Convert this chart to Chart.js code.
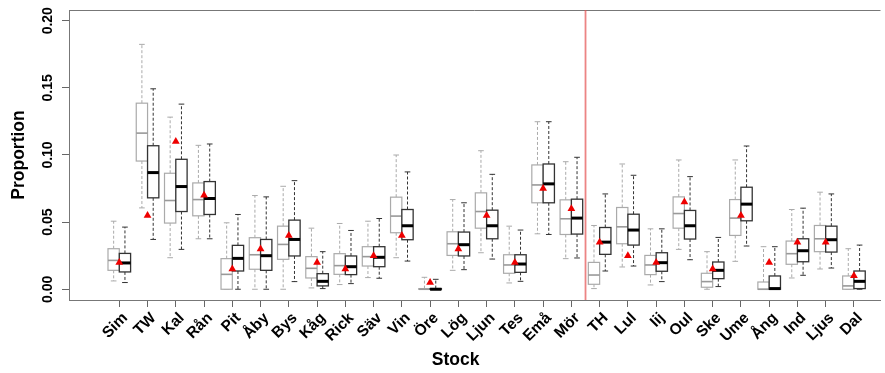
<!DOCTYPE html>
<html>
<head>
<meta charset="utf-8">
<script src="https://cdn.jsdelivr.net/npm/chart.js@4.4.1/dist/chart.umd.min.js"></script>
<style>
  html, body { margin: 0; padding: 0; background: #fff; }
</style>
</head>
<body>
<canvas id="boxChart" width="885" height="373"></canvas>
<script>
const stocks = ['Sim', 'TW', 'Kal', 'Rån', 'Pit', 'Åby', 'Bys', 'Kåg', 'Rick', 'Säv', 'Vin', 'Öre', 'Lög', 'Ljun',
    'Tes', 'Emå', 'Mör', 'TH', 'Lul', 'Iij', 'Oul', 'Ske', 'Ume', 'Ång', 'Ind', 'Ljus', 'Dal'];

// grey boxes (left of the tick)
const greyLow = [0.0062, 0.0606, 0.0235, 0.0376, 0, 0, 0, 0.001, 0.0035, 0.0087, 0.0235, 0, 0.0141, 0.0272,
    0.0047, 0.0413, 0.0228, 0.0005, 0.0166, 0.0032, 0.0297, 0, 0.0208, 0, 0.0084, 0.0151, 0];
const greyQ1 = [0.0141, 0.0955, 0.0493, 0.0547, 0, 0.0149, 0.0223, 0.0084, 0.0111, 0.0173, 0.0421, 0, 0.0252, 0.0455,
    0.0119, 0.0644, 0.0408, 0.0037, 0.0339, 0.0109, 0.0455, 0.0015, 0.0401, 0, 0.0186, 0.028, 0];
const greyMed = [0.0215, 0.1163, 0.0661, 0.0668, 0.0111, 0.0257, 0.0334, 0.0156, 0.0176, 0.0243, 0.0545, 0, 0.0339, 0.0579,
    0.0181, 0.0777, 0.0525, 0.0106, 0.0465, 0.0181, 0.0564, 0.0057, 0.053, 0, 0.0265, 0.0376, 0.0025];
const greyQ3 = [0.0302, 0.1386, 0.0864, 0.0792, 0.0228, 0.0384, 0.047, 0.0243, 0.0265, 0.0317, 0.0686, 0.0005, 0.0428, 0.0718,
    0.0257, 0.0926, 0.0666, 0.02, 0.0609, 0.0252, 0.0688, 0.0119, 0.0668, 0.0054, 0.0359, 0.0475, 0.0099];
const greyHigh = [0.0507, 0.1824, 0.1282, 0.1072, 0.0495, 0.0698, 0.0767, 0.0455, 0.049, 0.0507, 0.1, 0.0089, 0.0668, 0.1032,
    0.047, 0.1248, 0.095, 0.0475, 0.0933, 0.045, 0.0963, 0.028, 0.0963, 0.0317, 0.0594, 0.0723, 0.0302];

// black boxes (right of the tick)
const blackLow = [0.005, 0.0371, 0.0297, 0.0376, 0, 0, 0.0057, 0.0005, 0.0042, 0.0082, 0.021, 0, 0.0146, 0.0225,
    0.0059, 0.0408, 0.0233, 0.0136, 0.0173, 0.0057, 0.022, 0.002, 0.0322, 0, 0.0104, 0.0158, 0];
const blackQ1 = [0.0129, 0.0681, 0.0579, 0.0557, 0.0136, 0.0141, 0.0248, 0.0025, 0.0109, 0.0168, 0.0369, 0, 0.0248, 0.0376,
    0.0126, 0.0644, 0.0411, 0.026, 0.0329, 0.0134, 0.0374, 0.0079, 0.051, 0, 0.0205, 0.0277, 0.0005];
const blackMed = [0.0196, 0.0869, 0.0765, 0.0676, 0.023, 0.025, 0.0371, 0.0059, 0.0168, 0.0238, 0.0473, 0, 0.0332, 0.0473,
    0.0188, 0.0785, 0.053, 0.0351, 0.0441, 0.0198, 0.0473, 0.0141, 0.0634, 0.0005, 0.0287, 0.0369, 0.0059];
const blackQ3 = [0.0267, 0.1069, 0.0968, 0.0802, 0.0327, 0.0371, 0.0515, 0.0116, 0.0248, 0.0317, 0.0594, 0.0005, 0.0426, 0.0589,
    0.0257, 0.0933, 0.0671, 0.046, 0.0559, 0.0272, 0.0587, 0.0203, 0.076, 0.0099, 0.0376, 0.047, 0.0136];
const blackHigh = [0.0463, 0.1493, 0.1379, 0.1082, 0.0557, 0.0688, 0.0809, 0.028, 0.0438, 0.0527, 0.0874, 0.0074, 0.0644, 0.0856,
    0.0441, 0.1248, 0.0983, 0.071, 0.0849, 0.045, 0.0839, 0.0386, 0.1067, 0.0317, 0.0604, 0.071, 0.0329];

// red triangles
const observed = [0.02, 0.055, 0.11, 0.07, 0.015, 0.03, 0.04, 0.02, 0.015, 0.025, 0.04, 0.005, 0.03, 0.055,
    0.02, 0.075, 0.06, 0.035, 0.025, 0.02, 0.065, 0.015, 0.055, 0.02, 0.035, 0.035, 0.01];

const yTicks = [0, 0.05, 0.1, 0.15, 0.2];
const dividerAt = 16.5; // between Mör and TH

const fontFamily = '"Liberation Sans", Arial, Helvetica, sans-serif';

const drawBox = (ctx, x, y, pos, lo, q1, med, q3, hi, style) => {
    const left = x.getPixelForValue(pos - 0.2);
    const right = x.getPixelForValue(pos + 0.2);
    const mid = x.getPixelForValue(pos);
    const capL = x.getPixelForValue(pos - 0.1);
    const capR = x.getPixelForValue(pos + 0.1);
    const yLo = y.getPixelForValue(lo);
    const yQ1 = y.getPixelForValue(q1);
    const yMed = y.getPixelForValue(med);
    const yQ3 = y.getPixelForValue(q3);
    const yHi = y.getPixelForValue(hi);

    // whiskers
    ctx.strokeStyle = style.whisker;
    ctx.lineWidth = 1;
    ctx.setLineDash([3, 2]);
    ctx.beginPath();
    ctx.moveTo(mid, yQ3);
    ctx.lineTo(mid, yHi);
    ctx.moveTo(mid, yQ1);
    ctx.lineTo(mid, yLo);
    ctx.stroke();
    ctx.setLineDash([]);
    ctx.beginPath();
    ctx.moveTo(capL, yHi);
    ctx.lineTo(capR, yHi);
    ctx.moveTo(capL, yLo);
    ctx.lineTo(capR, yLo);
    ctx.stroke();

    // box
    ctx.fillStyle = '#fff';
    ctx.fillRect(left, yQ3, right - left, yQ1 - yQ3);
    ctx.strokeStyle = style.box;
    ctx.lineWidth = style.boxWidth;
    ctx.strokeRect(left, yQ3, right - left, yQ1 - yQ3);

    // median
    ctx.strokeStyle = style.median;
    ctx.lineWidth = style.medianWidth;
    ctx.beginPath();
    ctx.moveTo(left, yMed);
    ctx.lineTo(right, yMed);
    ctx.stroke();
};

const boxPlotPlugin = {
    id: 'boxPlots',
    beforeDatasetsDraw(chart) {
        const { ctx, chartArea, scales: { x, y } } = chart;
        ctx.save();

        // top line of the frame
        ctx.strokeStyle = '#777';
        ctx.lineWidth = 1;
        ctx.beginPath();
        ctx.moveTo(chartArea.left, chartArea.top + 0.5);
        ctx.lineTo(chartArea.right, chartArea.top + 0.5);
        ctx.stroke();

        // red divider
        const xd = x.getPixelForValue(dividerAt);
        ctx.strokeStyle = 'rgba(228, 80, 80, 0.7)';
        ctx.lineWidth = 1.8;
        ctx.beginPath();
        ctx.moveTo(xd, chartArea.top);
        ctx.lineTo(xd, chartArea.bottom);
        ctx.stroke();

        const greyStyle = { whisker: '#aaa', box: '#aaa', boxWidth: 1.2, median: '#999', medianWidth: 1.6 };
        const blackStyle = { whisker: '#333', box: '#333', boxWidth: 1.3, median: '#000', medianWidth: 3 };

        stocks.forEach((s, i) => {
            drawBox(ctx, x, y, i - 0.2, greyLow[i], greyQ1[i], greyMed[i], greyQ3[i], greyHigh[i], greyStyle);
            drawBox(ctx, x, y, i + 0.2, blackLow[i], blackQ1[i], blackMed[i], blackQ3[i], blackHigh[i], blackStyle);
        });
        ctx.restore();
    },
    afterDraw(chart) {
        const { ctx, chartArea, scales: { x } } = chart;
        ctx.save();
        ctx.fillStyle = '#000';
        ctx.font = 'bold 17.5px ' + fontFamily;
        ctx.textAlign = 'center';
        ctx.textBaseline = 'middle';
        ctx.fillText('Stock', x.getPixelForValue(11.9), chartArea.bottom + 60);
        ctx.restore();
    }
};

new Chart(document.getElementById('boxChart'), {
    type: 'scatter',
    data: {
        datasets: [{
            label: 'observed',
            data: observed.map((v, i) => ({ x: i, y: v })),
            pointStyle: 'triangle',
            radius: 4.5,
            backgroundColor: '#ee0000',
            borderColor: '#ee0000',
            borderWidth: 0
        }]
    },
    options: {
        responsive: false,
        animation: false,
        layout: { padding: { top: 10, right: 0, left: 0, bottom: 0 } },
        plugins: { legend: { display: false }, tooltip: { enabled: false } },
        scales: {
            x: {
                type: 'linear',
                min: -1.78,
                max: 26.94,
                afterBuildTicks: (scale) => { scale.ticks = stocks.map((s, i) => ({ value: i })); },
                afterFit: (scale) => {
                    scale.height = 73;
                    scale.paddingLeft = 0;
                    scale.paddingRight = 0;
                },
                ticks: {
                    callback: (v) => stocks[v],
                    minRotation: 45,
                    maxRotation: 45,
                    autoSkip: false,
                    padding: 2,
                    labelOffset: 6,
                    color: '#000',
                    font: { family: fontFamily, size: 15.5, weight: 'bold' }
                },
                grid: { drawOnChartArea: false, tickLength: 7, color: '#666' },
                border: { color: '#777' }
            },
            y: {
                min: -0.008,
                max: 0.208,
                afterBuildTicks: (scale) => { scale.ticks = yTicks.map(v => ({ value: v })); },
                afterFit: (scale) => {
                    scale.width = 69;
                    scale.paddingTop = 0;
                    scale.paddingBottom = 0;
                },
                ticks: {
                    callback: (v) => v.toFixed(2),
                    minRotation: 90,
                    maxRotation: 90,
                    crossAlign: 'center',
                    padding: 0,
                    color: '#000',
                    font: { family: fontFamily, size: 14, weight: 'bold' }
                },
                grid: { drawOnChartArea: false, tickLength: 7, color: '#666' },
                border: { color: '#777' },
                title: {
                    display: true,
                    text: 'Proportion',
                    color: '#000',
                    font: { family: fontFamily, size: 17.5, weight: 'bold' },
                    padding: { top: 9, bottom: 0 }
                }
            }
        }
    },
    plugins: [boxPlotPlugin]
});
</script>
</body>
</html>
